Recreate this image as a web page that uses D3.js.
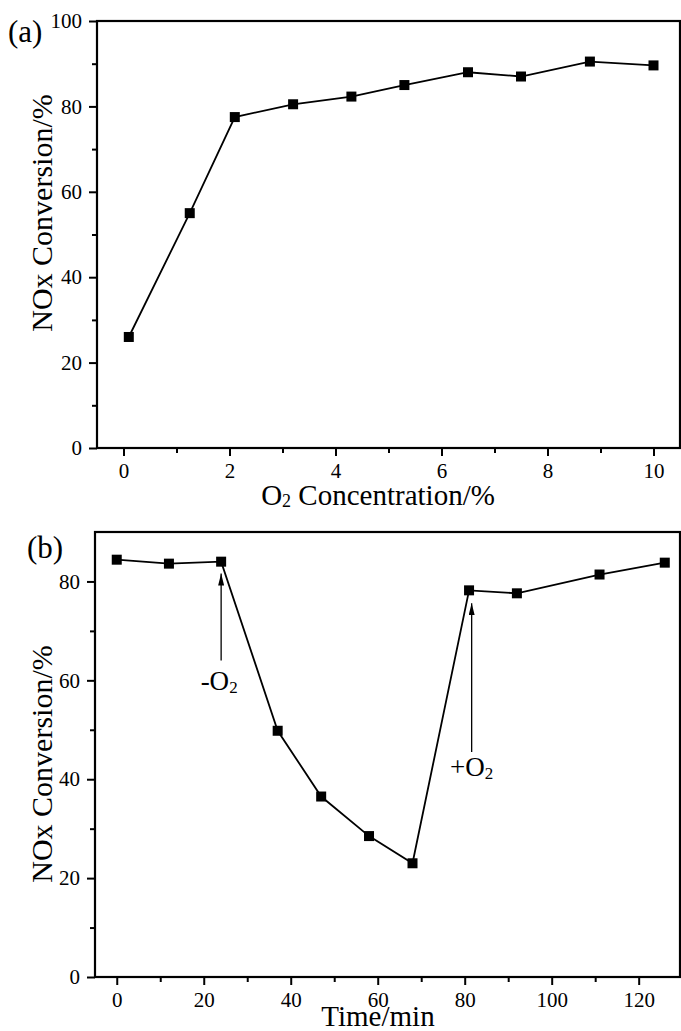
<!DOCTYPE html>
<html>
<head>
<meta charset="utf-8">
<script src="https://cdn.jsdelivr.net/npm/d3@7"></script>
<style>
  body { margin: 0; background: #fff; }
  svg { display: block; }
  text { font-family: "Liberation Serif", "Times New Roman", serif; fill: #000; }
</style>
</head>
<body>
<div id="wrapper"></div>
<script>
// panel (a): O2 concentration vs NOx conversion
const o2Conc = [0.1, 1.25, 2.1, 3.2, 4.3, 5.3, 6.5, 7.5, 8.8, 10]
const o2Conversion = [26, 55, 77.5, 80.5, 82.3, 85, 88, 87, 90.5, 89.6]

// panel (b): time on stream, O2 removed then restored
const timeMin = [0, 12, 24, 37, 47, 58, 68, 81, 92, 111, 126]
const timeConversion = [84.4, 83.6, 84, 49.8, 36.5, 28.5, 23, 78.2, 77.6, 81.4, 83.8]

const xTicksA = [0, 2, 4, 6, 8, 10]
const yTicksA = [0, 20, 40, 60, 80, 100]
const xTicksB = [0, 20, 40, 60, 80, 100, 120]
const yTicksB = [0, 20, 40, 60, 80]

// arrows in panel (b): label, time, arrow tip, arrow tail, label baseline
const arrowNotes = [
  { label: "-O", x: 24, tip: 81.6, tail: 64, text: 58, dx: -2 },
  { label: "+O", x: 81.6, tip: 75.6, tail: 45.5, text: 40.6, dx: 0 },
]

const width = 681
const height = 1031

const svg = d3.select("#wrapper")
  .append("svg")
  .attr("width", width)
  .attr("height", height)

svg.append("defs").append("marker")
  .attr("id", "head")
  .attr("viewBox", "0 0 12 6")
  .attr("refX", 12)
  .attr("refY", 3)
  .attr("markerWidth", 12)
  .attr("markerHeight", 6)
  .attr("markerUnits", "userSpaceOnUse")
  .attr("orient", "auto")
  .append("path")
  .attr("d", "M0,0 L12,3 L0,6 Z")
  .attr("fill", "#000")

function drawPanel(opts) {
  const { left, top, w, h, xDomain, yDomain, xTicks, yTicks, xMinor, yMinor, xs, ys } = opts

  const xScale = d3.scaleLinear().domain(xDomain).range([left, left + w])
  const yScale = d3.scaleLinear().domain(yDomain).range([top + h, top])

  const g = svg.append("g")

  // minor ticks first
  g.append("g")
    .attr("transform", `translate(0,${top + h})`)
    .call(d3.axisBottom(xScale).tickValues(xMinor).tickSize(5).tickFormat(""))
    .call(a => a.select(".domain").remove())
    .call(a => a.selectAll("line").attr("stroke-width", 2))
  g.append("g")
    .attr("transform", `translate(${left},0)`)
    .call(d3.axisLeft(yScale).tickValues(yMinor).tickSize(5).tickFormat(""))
    .call(a => a.select(".domain").remove())
    .call(a => a.selectAll("line").attr("stroke-width", 2))

  const xAxis = g.append("g")
    .attr("transform", `translate(0,${top + h})`)
    .call(d3.axisBottom(xScale).tickValues(xTicks).tickSize(8).tickPadding(7))
  xAxis.select(".domain").remove()
  xAxis.selectAll("line").attr("stroke-width", 2)
  xAxis.selectAll("text")
    .attr("font-family", "Liberation Serif")
    .attr("font-size", 21)
    .attr("fill", "#000")

  const yAxis = g.append("g")
    .attr("transform", `translate(${left},0)`)
    .call(d3.axisLeft(yScale).tickValues(yTicks).tickSize(8).tickPadding(7))
  yAxis.select(".domain").remove()
  yAxis.selectAll("line").attr("stroke-width", 2)
  yAxis.selectAll("text")
    .attr("font-family", "Liberation Serif")
    .attr("font-size", 21)
    .attr("fill", "#000")

  // frame
  g.append("rect")
    .attr("x", left)
    .attr("y", top)
    .attr("width", w)
    .attr("height", h)
    .attr("fill", "none")
    .attr("stroke", "#000")
    .attr("stroke-width", 2.2)

  const points = xs.map((x, i) => [x, ys[i]])

  g.append("path")
    .datum(points)
    .attr("fill", "none")
    .attr("stroke", "#000")
    .attr("stroke-width", 1.8)
    .attr("d", d3.line().x(d => xScale(d[0])).y(d => yScale(d[1])))

  g.selectAll(".pt")
    .data(points)
    .enter().append("rect")
    .attr("class", "pt")
    .attr("x", d => xScale(d[0]) - 5)
    .attr("y", d => yScale(d[1]) - 5)
    .attr("width", 10)
    .attr("height", 10)
    .attr("fill", "#000")

  return { xScale, yScale }
}

// (a)
drawPanel({
  left: 97, top: 21, w: 583, h: 427,
  xDomain: [-0.5, 10.5], yDomain: [0, 100],
  xTicks: xTicksA, yTicks: yTicksA,
  xMinor: [1, 3, 5, 7, 9], yMinor: [10, 30, 50, 70, 90],
  xs: o2Conc, ys: o2Conversion,
})

// (b)
const b = drawPanel({
  left: 95, top: 532, w: 585, h: 445,
  xDomain: [-5, 129.5], yDomain: [0, 90],
  xTicks: xTicksB, yTicks: yTicksB,
  xMinor: [10, 30, 50, 70, 90, 110], yMinor: [10, 30, 50, 70],
  xs: timeMin, ys: timeConversion,
})

// arrows and labels
arrowNotes.forEach(n => {
  const x = b.xScale(n.x)
  svg.append("line")
    .attr("x1", x).attr("x2", x)
    .attr("y1", b.yScale(n.tail))
    .attr("y2", b.yScale(n.tip))
    .attr("stroke", "#000")
    .attr("stroke-width", 1.3)
    .attr("marker-end", "url(#head)")
  const t = svg.append("text")
    .attr("x", x + n.dx)
    .attr("y", b.yScale(n.text))
    .attr("text-anchor", "middle")
    .attr("font-size", 27)
  t.append("tspan").text(n.label)
  t.append("tspan").attr("font-size", 17).attr("dy", 3).text("2")
})

// panel letters
svg.append("text").attr("x", 8).attr("y", 42).attr("font-size", 31).text("(a)")
svg.append("text").attr("x", 27).attr("y", 558).attr("font-size", 31).text("(b)")

// axis titles
function yTitle(cy) {
  svg.append("text")
    .attr("transform", `translate(52,${cy}) rotate(-90)`)
    .attr("text-anchor", "middle")
    .attr("font-size", 30)
    .text("NOx Conversion/%")
}
yTitle(213)
yTitle(764)

const xt = svg.append("text")
  .attr("x", 378)
  .attr("y", 505)
  .attr("text-anchor", "middle")
  .attr("font-size", 29)
xt.append("tspan").text("O")
xt.append("tspan").attr("font-size", 18).attr("dy", 2).text("2")
xt.append("tspan").attr("dy", -2).text(" Concentration/%")

svg.append("text")
  .attr("x", 378)
  .attr("y", 1026)
  .attr("text-anchor", "middle")
  .attr("font-size", 29)
  .text("Time/min")
</script>
</body>
</html>
